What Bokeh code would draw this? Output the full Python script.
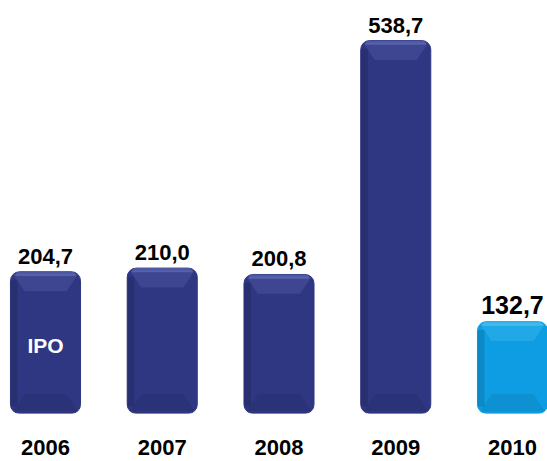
from bokeh.plotting import figure
from bokeh.models import ColumnDataSource, Range1d, FixedTicker
from bokeh.core.properties import value
from bokeh.embed import file_html
from bokeh.resources import INLINE

years = ["2006", "2007", "2008", "2009", "2010"]
values = [204.7, 210.0, 200.8, 538.7, 132.7]
value_labels = ["204,7", "210,0", "200,8", "538,7", "132,7"]
bar_colors = ["#2F3782", "#2F3782", "#2F3782", "#2F3782", "#0E9DE2"]
cap_colors = ["#7580C8", "#7580C8", "#7580C8", "#7580C8", "#6AD4FA"]
label_sizes = ["22px", "22px", "22px", "22px", "25px"]
ipo_text = ["IPO"]

xs = list(range(len(years)))
half_w = 0.3
cap_h = 28.0
src = ColumnDataSource(dict(
    x=xs, top=values, lab=value_labels, color=bar_colors, size=label_sizes,
))

p = figure(width=547, height=461, output_backend="svg", toolbar_location=None,
           x_range=Range1d(-0.3854, 4.2998), y_range=Range1d(0, 596.5),
           min_border_left=0, min_border_right=0, min_border_top=0, min_border_bottom=48)
p.outline_line_color = None
p.xgrid.visible = False
p.ygrid.visible = False
p.yaxis.visible = False
p.background_fill_color = "white"
p.border_fill_color = "white"

# main bars
p.vbar(x="x", top="top", width=2 * half_w, source=src, fill_color="color",
       line_color="color", border_radius=9)

# top bevel (trapezoid highlight derived from each bar's value)
cap_xs = [[x - half_w + 0.02, x + half_w - 0.02, x + half_w - 0.12, x - half_w + 0.12]
          for x in xs]
cap_ys = [[v - 3, v - 3, v - cap_h, v - cap_h] for v in values]
p.patches(cap_xs, cap_ys, fill_color=cap_colors, fill_alpha=0.22, line_color=None)
p.vbar(x=xs, top=values, bottom=[v - 6 for v in values], width=2 * half_w - 0.08,
       fill_color=cap_colors, fill_alpha=0.45, line_color=None, border_radius=[5, 5, 0, 0])

# bottom bevel (slightly darker band)
bot_xs = [[x - half_w + 0.02, x + half_w - 0.02, x + half_w - 0.12, x - half_w + 0.12]
          for x in xs]
bot_ys = [[3, 3, cap_h, cap_h] for v in values]
p.patches(bot_xs, bot_ys, fill_color="black", fill_alpha=0.07, line_color=None)

# darker left edge strip
p.vbar(x=[x - half_w + 0.03 for x in xs], top=[v - 12 for v in values], bottom=10,
       width=0.06, fill_color="black", fill_alpha=0.12, line_color=None)

# value labels
p.text(x="x", y="top", text="lab", source=src, text_align="center",
       text_baseline="bottom", y_offset=-8, text_font=value("Liberation Sans"),
       text_font_style="bold", text_font_size="size", text_color="black")

# IPO label
p.text(x=[xs[0]], y=[values[0] * 0.48], text=ipo_text, text_align="center",
       text_baseline="middle", text_font=value("Liberation Sans"),
       text_font_style="bold", text_font_size="21px", text_color="white")

ax = p.xaxis[0]
ax.ticker = FixedTicker(ticks=xs)
ax.major_label_overrides = {i: y for i, y in zip(xs, years)}
ax.axis_line_color = None
ax.major_tick_line_color = None
ax.minor_tick_line_color = None
ax.major_tick_out = 0
ax.major_tick_in = 0
ax.major_label_standoff = 26
ax.major_label_text_font = "Liberation Sans"
ax.major_label_text_font_style = "bold"
ax.major_label_text_font_size = "22px"
ax.major_label_text_color = "black"

open("out.html", "w").write(file_html(p, INLINE))
